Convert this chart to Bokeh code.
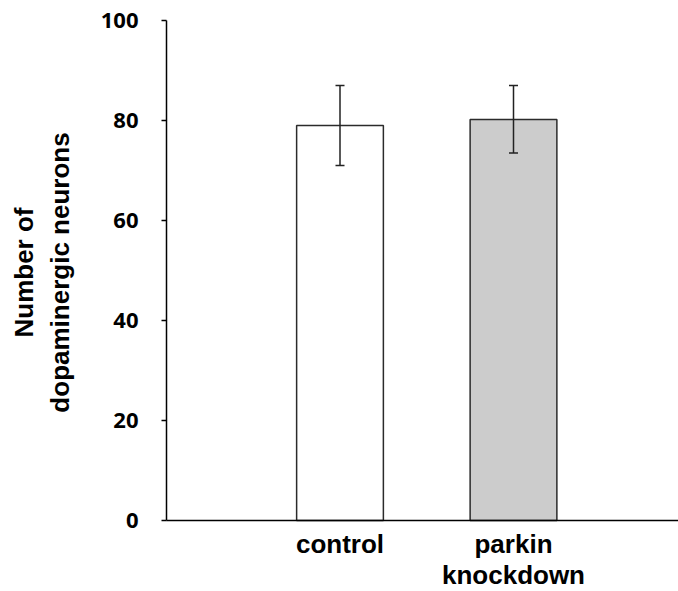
import math
from bokeh.plotting import figure
from bokeh.models import (ColumnDataSource, Range1d, FixedTicker, Whisker, TeeHead, Label)
from bokeh.embed import file_html
from bokeh.resources import INLINE

# ---- data ----
categories = ["control", "parkin\nknockdown"]
cat_pos = [1, 2]
means = [79.0, 80.2]
err_lower = [71.0, 73.5]
err_upper = [87.0, 87.0]
fills = ["#ffffff", "#cccccc"]
y_ticks = [0, 20, 40, 60, 80, 100]
y_title = "Number of\ndopaminergic neurons"

src = ColumnDataSource(dict(x=cat_pos, top=means, lower=err_lower, upper=err_upper,
                            fill=fills))

# frame spans the whole canvas; axes are pinned at x=0 / y=0
p = figure(width=678, height=591, output_backend="svg", toolbar_location=None,
           x_range=Range1d(-0.9568, 2.951), y_range=Range1d(-14.2, 104),
           min_border_left=0, min_border_right=0, min_border_top=0,
           min_border_bottom=0)
p.outline_line_color = None
p.grid.visible = False
p.background_fill_color = "white"
p.border_fill_color = "white"

p.vbar(x="x", top="top", bottom=0, width=0.5, source=src, fill_color="fill",
       line_color="#2b2b2b", line_width=1.5)

w = Whisker(base="x", lower="lower", upper="upper", source=src,
            line_color="#222222", line_width=1.5, level="overlay",
            upper_head=TeeHead(size=9, line_color="#222222", line_width=1.5),
            lower_head=TeeHead(size=9, line_color="#222222", line_width=1.5))
p.add_layout(w)

# y axis
yax = p.yaxis[0]
yax.fixed_location = 0
yax.bounds = (0, 100)
yax.ticker = FixedTicker(ticks=y_ticks)
yax.major_tick_out = 5
yax.major_tick_in = 0
yax.minor_tick_out = 0
yax.minor_tick_in = 0
yax.axis_line_color = "black"
yax.axis_line_width = 1.5
yax.major_tick_line_color = "black"
yax.major_tick_line_width = 1.5
yax.major_label_standoff = 23
yax.major_label_text_font = "Open Sans"
yax.major_label_text_font_style = "bold"
yax.major_label_text_font_size = "22px"
yax.major_label_text_color = "black"

# y title, centred on the 0-100 span
title = Label(x=-0.72, y=49.6, text=y_title, angle=math.pi / 2,
              text_align="center", text_baseline="middle",
              text_font="Liberation Sans", text_font_style="bold",
              text_font_size="26px", text_color="black", text_line_height=1.2)
p.add_layout(title)

# x axis at y = 0 with category labels
xax = p.xaxis[0]
xax.fixed_location = 0
xax.bounds = (0, 2.951)
xax.ticker = FixedTicker(ticks=cat_pos)
xax.major_label_overrides = {pos: lab for pos, lab in zip(cat_pos, categories)}
xax.major_tick_out = 0
xax.major_tick_in = 0
xax.minor_tick_out = 0
xax.minor_tick_in = 0
xax.axis_line_color = "black"
xax.axis_line_width = 1.5
xax.major_label_standoff = 8
xax.major_label_text_font = "Liberation Sans"
xax.major_label_text_font_style = "bold"
xax.major_label_text_font_size = "26px"
xax.major_label_text_color = "black"
xax.major_label_text_line_height = 1.06

open("out.html", "w").write(file_html(p, INLINE))
